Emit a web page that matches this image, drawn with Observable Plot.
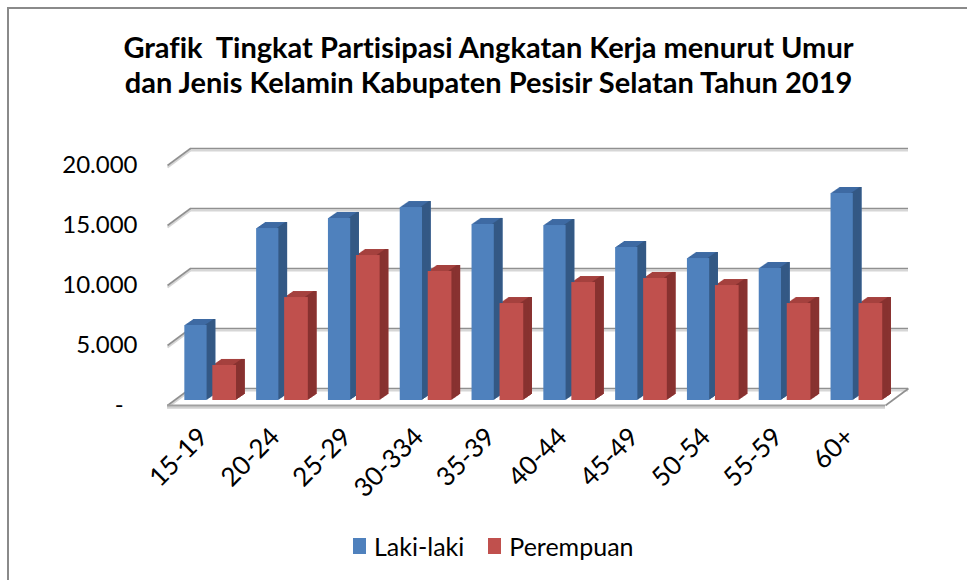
<!DOCTYPE html>
<html><head><meta charset="utf-8">
<script src="https://cdn.jsdelivr.net/npm/d3@7"></script>
<script src="https://cdn.jsdelivr.net/npm/@observablehq/plot@0.6"></script>
<style>
body{margin:0;background:#fff;width:967px;height:580px;overflow:hidden;position:relative;font-family:Lato,sans-serif;font-variant-ligatures:none;}
#frame{position:absolute;left:7px;top:7px;width:1000px;height:620px;border-left:2px solid #8a8a8a;border-top:2px solid #8a8a8a;}
#title{position:absolute;left:0;width:977px;top:29px;text-align:center;font-weight:bold;font-size:29px;line-height:35px;color:#000;white-space:pre;}
#chart{position:absolute;left:0;top:110px;}
#legend{position:absolute;left:353px;top:531px;display:flex;align-items:center;font-size:25px;color:#000;}
#legend .item{display:flex;align-items:center;margin-right:24px;}
#legend .sw{width:13px;height:16px;margin-right:8px;}
</style></head>
<body>
<div id="frame"></div>
<div id="title"></div>
<div id="chart"></div>
<div id="legend"></div>
<script>
const titleLines = ["Grafik  Tingkat Partisipasi Angkatan Kerja menurut Umur", "dan Jenis Kelamin Kabupaten Pesisir Selatan Tahun 2019"];
const categories = ["15-19","20-24","25-29","30-334","35-39","40-44","45-49","50-54","55-59","60+"];
const lakiLaki  = [6250, 14330, 15170, 16080, 14670, 14580, 12750, 11830, 11000, 17250];
const perempuan = [2920, 8580, 12080, 10750, 8080, 9830, 10170, 9580, 8080, 8080];
const seriesNames = ["Laki-laki", "Perempuan"];
const yTicks = [0, 5000, 10000, 15000, 20000];

const frontColors = ["#4f81bd", "#c0504d"];
const topColors   = ["#3e6aa3", "#a5413e"];
const sideColors  = ["#345985", "#883230"];

document.getElementById("title").textContent = titleLines.join("\n");

const W = 967, H = 410, mL = 167, mR = 82, mT = 55, mB = 115;
const yMax = 20000;
const pxPerX = (W - mL - mR) / categories.length;
const pxPerY = (H - mT - mB) / yMax;
const wallDX = 23, wallDY = 17;          // depth of floor / back wall (px)
const DXu = wallDX / pxPerX, DYu = wallDY / pxPerY;

const data = categories.flatMap((c, i) => [
  {cat: c, i, s: 0, value: lakiLaki[i]},
  {cat: c, i, s: 1, value: perempuan[i]}
]);
const slot = [[0.13, 0.44], [0.52, 0.85]];
const X1 = d => d.i + slot[d.s][0];
const X2 = d => d.i + slot[d.s][1];

const barDX = 8, barDY = -5;           // bars sit a little behind the floor front edge
const K = 9, sideW = 8.7, topH = 6;
const layers = d3.range(1, K + 1);

const marks = [];
// back wall gridlines (shadow + line)
marks.push(Plot.ruleY(yTicks, {dx: wallDX, dy: -wallDY + 2, stroke: "#d6d6d6", strokeWidth: 2}));
marks.push(Plot.ruleY(yTicks, {dx: wallDX, dy: -wallDY, stroke: "#909090", strokeWidth: 1.6}));
// side-wall diagonals
marks.push(Plot.link(yTicks, {x1: 0, y1: d => d, x2: DXu, y2: d => d + DYu, stroke: "#d6d6d6", strokeWidth: 2, dy: 2}));
marks.push(Plot.link(yTicks, {x1: 0, y1: d => d, x2: DXu, y2: d => d + DYu, stroke: "#909090", strokeWidth: 1.6}));
// floor front and right edges
marks.push(Plot.link([0], {x1: categories.length, y1: 0, x2: categories.length + DXu, y2: DYu, stroke: "#909090", strokeWidth: 1.6}));
marks.push(Plot.ruleY([0], {dy: 2, stroke: "#d0d0d0", strokeWidth: 2.5}));
marks.push(Plot.ruleY([0], {stroke: "#a0a0a0", strokeWidth: 1.8}));

// bar extrusions (top colour)
for (const k of layers) {
  marks.push(Plot.rectY(data, {x1: X1, x2: X2, y1: 0, y2: "value", fill: d => topColors[d.s],
    dx: barDX + k * sideW / K, dy: barDY - k * topH / K}));
}
// side faces
for (const k of layers) {
  marks.push(Plot.rectY(data, {x1: X1, x2: X2, y1: 0, y2: "value", fill: d => sideColors[d.s],
    insetLeft: 20, dx: barDX + k * sideW / K, dy: barDY - k * topH / K}));
}
// front faces
marks.push(Plot.rectY(data, {x1: X1, x2: X2, y1: 0, y2: "value", fill: d => frontColors[d.s], dx: barDX, dy: barDY}));

// y axis labels
const fmt = v => v === 0 ? "-\u2007" : d3.format(",")(v).replace(/,/g, ".");
marks.push(Plot.text(yTicks, {x: 0, y: d => d, text: fmt, textAnchor: "end", dx: -30, fontSize: 24, fill: "#000"}));
// x axis labels
marks.push(Plot.text(categories, {x: (d, i) => i + 0.5, frameAnchor: "bottom", text: d => d, rotate: -45,
  textAnchor: "end", dx: 6, dy: 33, fontSize: 26, fill: "#000"}));

const chart = Plot.plot({
  width: W, height: H,
  marginLeft: mL, marginRight: mR, marginTop: mT, marginBottom: mB,
  x: {type: "linear", domain: [0, categories.length], axis: null},
  y: {domain: [0, yMax], axis: null},
  color: {type: "identity"},
  style: {fontFamily: "Lato, sans-serif", fontSize: "24px", background: "transparent", overflow: "visible"},
  marks
});
document.getElementById("chart").appendChild(chart);

const legend = document.getElementById("legend");
seriesNames.forEach((name, s) => {
  const item = document.createElement("div");
  item.className = "item";
  const sw = document.createElement("span");
  sw.className = "sw";
  sw.style.background = frontColors[s];
  item.appendChild(sw);
  item.appendChild(document.createTextNode(name));
  legend.appendChild(item);
});
</script>
</body></html>
